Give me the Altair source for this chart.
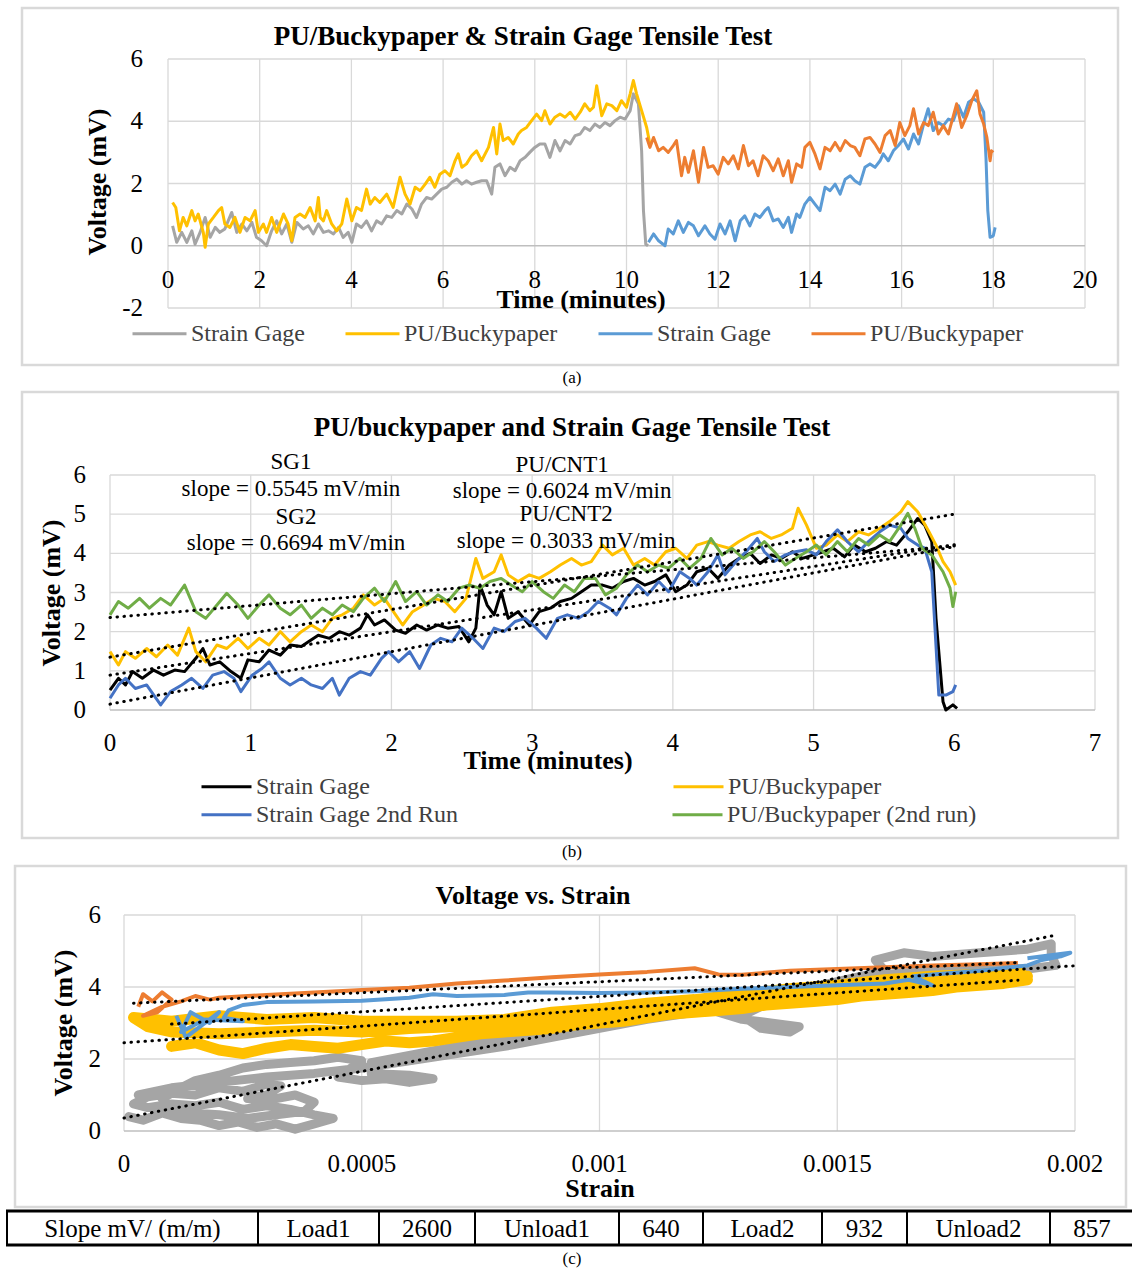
import altair as alt
import pandas as pd

FONT = "Liberation Serif"
GRID = "#d9d9d9"
AXLINE = "#bfbfbf"
FRAME = "#d9d9d9"

# ===================== Panel (a) data =====================
A_SG1_T = [0.10,0.19,0.30,0.41,0.52,0.59,0.70,0.81,0.92,1.03,1.13,1.24,1.39,1.50,1.61,1.72,1.83,1.93,2.04,2.15,
           2.26,2.37,2.48,2.59,2.70,2.81,2.95,3.06,3.17,3.28,3.39,3.50,3.61,3.72,3.82,3.93,4.01,4.11,4.22,4.33,
           4.44,4.55,4.66,4.77,4.88,4.99,5.10,5.21,5.32,5.42,5.53,5.64,5.75,5.86,5.97,6.08,6.19,6.30,6.41,6.51,
           6.62,6.73,6.84,6.95,7.06,7.13,7.24,7.35,7.46,7.57,7.68,7.79,7.89,8.00,8.11,8.22,8.33,8.44,8.55,8.66,
           8.77,8.88,8.99,9.09,9.20,9.31,9.42,9.53,9.64,9.75,9.86,9.97,10.08,10.15,10.26,10.33,10.37,10.42,10.47]
A_SG1_V = [0.64,0.11,0.43,0.11,0.48,0.05,0.43,0.91,0.27,0.59,0.43,0.54,1.07,0.43,0.70,0.48,0.75,0.27,0.16,0.00,
           0.48,0.80,0.38,0.70,0.11,0.75,0.54,0.64,0.38,0.70,0.43,0.48,0.38,0.59,0.27,0.43,0.11,0.70,0.59,0.80,
           0.48,0.80,0.70,0.96,0.91,1.13,1.02,1.34,1.18,0.91,1.34,1.55,1.50,1.66,1.82,1.88,2.04,2.14,1.98,2.09,
           1.98,2.04,2.09,2.09,1.66,2.52,2.63,2.25,2.52,2.41,2.73,2.84,3.00,3.16,3.27,3.27,2.84,3.38,3.05,3.38,
           3.27,3.54,3.59,3.80,3.70,3.91,3.80,3.96,3.86,4.02,4.13,4.07,4.34,4.88,4.56,3.05,1.13,0.05,0.00]

A_PU1_T = [0.10,0.17,0.25,0.33,0.41,0.52,0.59,0.66,0.77,0.81,0.88,0.99,1.10,1.17,1.24,1.35,1.46,1.57,1.68,1.79,
           1.90,1.97,2.08,2.15,2.26,2.37,2.52,2.62,2.70,2.77,2.88,2.99,3.10,3.21,3.28,3.32,3.39,3.46,3.57,3.68,
           3.79,3.90,4.01,4.11,4.22,4.33,4.41,4.51,4.62,4.77,4.91,5.06,5.17,5.28,5.39,5.50,5.61,5.71,5.82,5.93,
           6.04,6.15,6.26,6.33,6.41,6.51,6.62,6.73,6.84,6.99,7.10,7.17,7.24,7.31,7.42,7.53,7.64,7.71,7.82,7.93,
           8.04,8.15,8.22,8.33,8.44,8.55,8.66,8.77,8.88,8.99,9.09,9.20,9.28,9.35,9.46,9.57,9.68,9.79,9.89,10.00,
           10.08,10.15,10.22,10.33,10.44,10.51]
A_PU1_V = [1.39,1.23,0.48,0.91,0.64,1.13,0.80,1.02,0.43,-0.05,0.70,0.91,1.13,1.23,0.70,0.59,0.91,0.43,0.91,0.80,
           1.13,0.43,0.70,0.43,0.91,0.43,1.02,0.70,0.16,0.91,1.02,0.91,1.23,0.80,1.55,0.91,0.80,1.13,0.70,0.48,
           0.70,1.50,0.80,1.23,1.13,1.82,1.34,1.55,1.39,1.66,1.23,2.20,1.66,1.34,1.88,1.77,1.98,2.20,1.88,2.30,
           2.41,2.25,2.73,2.95,2.52,2.63,2.89,3.05,2.73,3.16,3.80,2.95,3.91,3.38,3.48,3.27,3.59,3.70,3.80,4.02,
           4.23,4.02,4.34,3.91,4.13,4.23,4.13,4.29,4.07,4.29,4.56,4.34,4.45,5.14,4.18,4.56,4.50,4.34,4.66,4.45,
           4.88,5.31,4.88,4.34,3.80,3.27]

A_SG2_T = [10.48,10.59,10.70,10.84,10.91,11.02,11.13,11.24,11.35,11.46,11.57,11.71,11.82,11.93,12.04,12.15,12.26,
           12.37,12.48,12.58,12.69,12.80,12.91,13.02,13.09,13.20,13.31,13.42,13.53,13.60,13.71,13.78,13.89,14.00,
           14.11,14.22,14.33,14.44,14.55,14.66,14.77,14.88,14.98,15.09,15.20,15.31,15.42,15.53,15.60,15.71,15.82,
           15.93,16.04,16.15,16.26,16.37,16.48,16.58,16.69,16.80,16.91,17.02,17.13,17.24,17.35,17.46,17.57,17.68,
           17.79,17.84,17.88,17.93,18.00,18.04]
A_SG2_V = [0.11,0.38,0.16,0.00,0.54,0.38,0.80,0.43,0.75,0.64,0.32,0.64,0.38,0.21,0.70,0.38,0.80,0.16,0.80,0.96,
           0.64,1.02,0.91,1.13,1.23,0.80,0.86,0.59,0.91,0.43,1.02,0.91,1.34,1.55,1.34,1.13,1.88,1.77,1.98,1.66,
           2.14,2.25,2.09,1.98,2.52,2.63,2.52,2.73,2.95,2.73,3.05,3.22,3.43,3.11,3.59,3.27,3.91,4.40,3.70,3.96,
           3.86,4.07,4.02,4.50,4.13,4.61,4.72,4.61,4.29,2.84,1.13,0.27,0.32,0.59]

A_PU2_T = [10.44,10.51,10.59,10.70,10.80,10.91,11.02,11.09,11.20,11.27,11.35,11.46,11.57,11.68,11.78,11.89,12.00,
           12.11,12.22,12.33,12.44,12.55,12.66,12.76,12.87,12.98,13.09,13.20,13.31,13.42,13.53,13.60,13.71,13.82,
           13.89,14.00,14.11,14.22,14.33,14.44,14.55,14.66,14.77,14.88,14.98,15.09,15.20,15.31,15.42,15.53,15.64,
           15.75,15.86,15.96,16.07,16.18,16.26,16.37,16.48,16.58,16.69,16.80,16.91,17.02,17.13,17.20,17.31,17.42,
           17.53,17.64,17.71,17.79,17.86,17.93,17.96,18.00]
A_PU2_V = [3.48,3.16,3.48,3.05,3.16,3.00,3.22,3.38,2.25,2.84,2.36,3.05,2.04,3.16,2.52,2.57,2.30,2.84,2.63,2.89,
           2.47,3.22,2.57,2.73,2.25,2.89,2.73,2.41,2.79,2.25,2.73,2.04,2.63,2.52,3.16,3.32,2.95,2.47,3.16,3.05,
           3.32,3.05,3.38,3.22,3.16,2.89,3.43,3.48,3.27,3.00,3.54,3.70,3.22,3.96,3.54,3.86,4.40,3.59,3.96,3.86,
           4.29,3.59,3.86,3.59,4.18,4.56,3.80,4.18,4.66,4.98,4.23,3.91,3.48,2.73,3.05,3.00]

A_KEYS = ["SG1", "PU1", "SG2", "PU2"]
A_COLORS = ["#a5a5a5", "#ffc000", "#5b9bd5", "#ed7d31"]
A_XTICKS = [0, 2, 4, 6, 8, 10, 12, 14, 16, 18, 20]
A_YTICKS = [-2, 0, 2, 4, 6]
A_TITLE = "PU/Buckypaper & Strain Gage Tensile Test"

# ===================== Panel (b) data =====================
B_SG_T = [0,0.06,0.11,0.16,0.23,0.31,0.38,0.46,0.53,0.61,0.66,0.71,0.78,0.86,0.93,0.98,1.06,1.13,1.21,1.28,
          1.36,1.41,1.48,1.56,1.63,1.70,1.78,1.83,1.88,1.95,2.03,2.10,2.18,2.25,2.33,2.40,2.48,2.55,2.60,2.63,
          2.68,2.73,2.78,2.83,2.90,2.98,3.05,3.13,3.20,3.28,3.35,3.42,3.50,3.57,3.65,3.72,3.80,3.87,3.95,4.02,
          4.10,4.17,4.25,4.32,4.40,4.47,4.55,4.62,4.70,4.77,4.85,4.92,5.00,5.07,5.14,5.22,5.29,5.37,5.44,5.52,
          5.59,5.67,5.74,5.79,5.84,5.87,5.92,5.94,5.99,6.02]
B_SG_V = [0.51,0.81,0.64,0.98,0.81,1.02,0.89,1.02,0.98,1.32,1.57,1.15,1.23,0.98,0.81,1.28,1.23,1.53,1.40,1.66,
          1.62,1.74,1.91,1.83,2.00,1.91,2.09,2.43,2.17,2.30,2.04,1.96,2.17,2.04,2.17,2.09,2.13,1.74,2.09,3.19,
          2.68,2.43,3.02,2.34,2.51,2.17,2.51,2.60,2.77,2.85,3.02,3.19,3.19,3.11,3.28,3.36,3.19,3.28,3.45,3.02,
          3.19,3.53,3.62,3.36,3.70,3.87,4.00,3.74,3.96,3.87,4.04,3.87,3.96,4.04,4.13,3.91,4.21,4.04,4.13,4.30,
          4.21,4.55,4.89,4.72,4.30,2.34,0.21,0.00,0.13,0.04]

B_PU_T = [0,0.06,0.11,0.18,0.26,0.33,0.41,0.48,0.56,0.61,0.68,0.76,0.83,0.91,0.98,1.06,1.13,1.21,1.28,1.36,
          1.43,1.51,1.58,1.65,1.73,1.80,1.88,1.95,2.03,2.08,2.15,2.23,2.30,2.38,2.45,2.53,2.60,2.65,2.73,2.78,
          2.83,2.90,2.98,3.05,3.13,3.20,3.28,3.35,3.42,3.50,3.57,3.65,3.72,3.80,3.87,3.95,4.02,4.10,4.17,4.25,
          4.32,4.40,4.47,4.55,4.62,4.70,4.77,4.85,4.89,4.95,5.02,5.09,5.17,5.24,5.32,5.39,5.47,5.54,5.62,5.67,
          5.74,5.82,5.87,5.92,5.97,6.01]
B_PU_V = [1.49,1.15,1.49,1.32,1.57,1.36,1.66,1.40,2.09,1.49,1.23,1.66,1.57,1.83,1.57,1.83,1.66,2.00,1.74,2.00,
          2.17,2.00,2.34,2.43,2.60,2.94,2.68,2.85,2.43,2.17,2.51,2.68,2.85,2.77,2.51,2.85,3.87,3.36,3.53,3.96,
          3.45,3.28,3.45,3.36,3.53,3.70,3.87,3.70,3.79,4.21,3.96,4.13,3.70,3.87,3.70,4.04,4.13,3.87,4.21,4.30,
          4.21,4.13,4.30,4.47,4.55,4.38,4.47,4.64,5.15,4.72,4.13,4.21,4.47,4.30,4.55,4.47,4.64,4.81,5.06,5.32,
          5.06,4.55,4.21,3.79,3.53,3.19]

B_SG2_T = [0,0.06,0.11,0.18,0.26,0.36,0.43,0.51,0.58,0.66,0.73,0.81,0.88,0.93,1.01,1.08,1.13,1.21,1.28,1.36,
           1.43,1.51,1.58,1.63,1.70,1.78,1.85,1.93,1.98,2.05,2.13,2.20,2.28,2.35,2.43,2.50,2.58,2.65,2.73,2.80,
           2.88,2.95,3.03,3.10,3.18,3.25,3.33,3.40,3.47,3.55,3.60,3.67,3.75,3.82,3.90,3.97,4.05,4.12,4.17,4.25,
           4.32,4.37,4.45,4.52,4.60,4.65,4.72,4.80,4.87,4.95,5.02,5.09,5.17,5.24,5.32,5.39,5.47,5.54,5.62,5.67,
           5.74,5.79,5.84,5.89,5.94,5.99,6.01]
B_SG2_V = [0.30,0.64,0.81,0.55,0.64,0.13,0.47,0.64,0.81,0.55,0.89,0.98,0.81,0.47,0.89,1.06,1.23,0.81,0.64,0.81,
           0.64,0.55,0.81,0.38,0.81,0.98,0.89,1.32,1.49,1.23,1.49,1.06,1.66,1.83,1.74,2.09,1.83,1.57,2.09,2.00,
           2.26,2.34,2.09,1.83,2.34,2.43,2.34,2.51,2.77,2.60,2.43,2.85,3.19,2.94,3.28,3.02,3.53,3.36,3.19,3.53,
           3.96,3.45,3.79,4.04,4.38,4.04,3.79,3.96,4.04,4.09,3.96,4.30,4.60,4.30,4.04,4.30,4.55,4.72,4.64,4.38,
           4.21,4.13,3.53,0.38,0.38,0.47,0.64]

B_PU2_T = [0,0.06,0.13,0.21,0.28,0.36,0.43,0.53,0.61,0.68,0.76,0.83,0.91,0.98,1.06,1.13,1.21,1.28,1.36,1.43,
           1.51,1.58,1.65,1.73,1.80,1.88,1.95,2.03,2.10,2.18,2.25,2.33,2.40,2.48,2.55,2.63,2.70,2.78,2.85,2.93,
           3.00,3.08,3.15,3.23,3.30,3.37,3.45,3.52,3.60,3.67,3.75,3.82,3.90,3.97,4.05,4.12,4.20,4.27,4.35,4.42,
           4.50,4.57,4.65,4.72,4.80,4.87,4.95,5.02,5.09,5.17,5.24,5.32,5.39,5.47,5.54,5.62,5.67,5.72,5.77,5.84,
           5.92,5.97,5.99,6.01]
B_PU2_V = [2.43,2.77,2.60,2.85,2.60,2.85,2.68,3.19,2.51,2.34,2.68,2.98,2.68,2.34,2.68,2.94,2.60,2.43,2.68,2.34,
           2.60,2.43,2.68,2.51,2.85,3.11,2.77,3.28,2.77,3.02,2.68,2.94,2.77,3.11,3.19,3.11,3.28,3.36,3.19,3.02,
           3.28,3.02,2.85,3.19,3.02,3.36,3.36,2.94,3.11,3.45,3.70,3.53,3.70,3.62,3.87,3.62,3.87,4.38,3.96,4.13,
           3.87,4.04,4.30,4.04,3.70,3.87,4.04,4.21,3.96,4.30,4.04,4.38,4.21,4.47,4.30,4.72,5.02,4.64,4.13,3.96,
           3.53,3.11,2.64,3.02]

B_NAMES = ["Strain Gage", "PU/Buckypaper", "Strain Gage 2nd Run", "PU/Buckypaper (2nd run)"]
B_COLORS = ["#000000", "#ffc000", "#4472c4", "#70ad47"]
# linear trendlines (end points)
B_TREND_T0 = [0, 0, 0, 0]
B_TREND_V0 = [0.89, 0.15, 1.35, 2.36]
B_TREND_T1 = [6, 6, 6, 6]
B_TREND_V1 = [4.22, 4.17, 5.00, 4.19]
B_ANN_TEXT = ["SG1", "slope = 0.5545  mV/min", "SG2", "slope = 0.6694  mV/min",
              "PU/CNT1", "slope = 0.6024  mV/min", "PU/CNT2", "slope = 0.3033  mV/min"]
B_XTICKS = [0, 1, 2, 3, 4, 5, 6, 7]
B_YTICKS = [0, 1, 2, 3, 4, 5, 6]
B_TITLE = "PU/buckypaper and Strain Gage Tensile Test"

# ===================== Panel (c) data =====================
C_GRAY_S = [0.00001,0.00004,0.00008,0.00012,0.00016,0.0002,0.00024,0.00028,0.00032,0.00036,0.0004,0.00044,
            0.0004,0.00035,0.0003,0.00025,0.0002,0.00015,0.0001,0.00005,0.00002,
            0.00005,0.0001,0.00015,0.0002,0.00025,0.0003,0.00033,0.0003,0.00026,
            0.0003,0.00036,0.0004,0.00038,0.00032,0.00026,0.0002,0.00014,0.0001,0.00008,0.00012,
            0.00015,0.0002,0.00025,0.0003,0.00035,0.0004,0.00045,0.0005,
            0.00045,0.0005,0.00055,0.0006,0.00065,0.0006,0.00052,
            0.00052,0.0006,0.0007,0.0008,0.0009,0.001,0.0011,0.0012,0.0013,
            0.00125,0.0013,0.00136,0.00142,0.0014,0.00134,0.0013,
            0.0014,0.0015,0.0016,0.00158,0.00164,0.0017,0.0018,0.0019,0.00195,0.00195,0.00196,0.0019,0.0018,0.0017,0.0016,
            0.0015,0.0014,0.0013,0.0012,0.0011,0.001,0.0009,0.0008,0.0007,0.0006,0.0005,0.0004,0.0003,0.0002,0.0001,0.00003]
C_GRAY_V = [0.4,0.3,0.5,0.35,0.3,0.15,0.25,0.1,0.2,0.05,0.2,0.35,
            0.45,0.6,0.7,0.6,0.8,0.7,0.75,0.65,0.75,
            0.95,1.05,1.0,1.2,1.1,1.3,1.25,1.0,0.9,
            0.85,1.0,0.8,0.55,0.45,0.35,0.45,0.5,0.6,0.9,1.2,
            1.4,1.55,1.75,1.85,1.9,1.95,2.05,1.95,
            1.5,1.4,1.45,1.35,1.45,1.55,1.6,
            1.9,2.1,2.35,2.55,2.8,3.05,3.3,3.55,3.8,
            3.3,3.1,3.0,2.9,2.75,2.85,3.2,
            3.85,4.15,4.45,4.75,4.95,4.85,4.95,5.05,5.2,4.9,4.6,4.5,4.55,4.45,4.35,
            4.0,3.7,3.5,3.3,3.1,2.85,2.6,2.35,2.15,1.95,1.75,1.6,1.5,1.35,1.2,1.0]

C_YEL_S = [0.0001,0.00015,0.0002,0.00025,0.0003,0.00035,0.0004,0.00045,0.0005,0.00055,0.0006,0.00065,
           0.0007,0.00075,0.0008,0.00085,0.0009,0.00095,0.001,0.00105,0.0011,0.00115,0.0012,0.00125,
           0.0013,0.00135,0.0014,0.00145,0.0015,0.00155,0.0016,0.00165,0.0017,0.00175,0.0018,0.00185,0.0019,
           0.00188,0.0018,0.0017,0.0016,0.0015,0.0014,0.0013,0.0012,0.0011,0.001,0.0009,0.0008,0.0007,
           0.0006,0.0005,0.0004,0.0003,0.0002,0.0001,0.00002,
           0.00005,0.0001,0.0002,0.0003,0.0004,0.0005,0.0006,0.0007,0.0008,0.0009,0.001,0.0011,0.0012,
           0.0013,0.0014,0.0015,0.0016,0.0017,0.0018,0.0019]
C_YEL_V = [2.35,2.45,2.25,2.15,2.3,2.4,2.35,2.3,2.4,2.5,2.45,2.5,
           2.6,2.7,2.75,2.8,2.85,2.95,3.0,3.05,3.15,3.25,3.3,3.35,
           3.4,3.5,3.55,3.6,3.65,3.75,3.8,3.85,3.9,4.0,4.05,4.1,4.2,
           4.45,4.35,4.3,4.2,4.05,3.95,3.8,3.65,3.55,3.4,3.3,3.1,3.05,
           3.05,3.05,3.15,3.1,3.2,3.05,3.15,
           2.9,2.75,2.7,2.75,2.8,2.75,2.85,2.9,3.0,3.1,3.2,3.35,3.5,
           3.6,3.75,3.85,4.0,4.1,4.2,4.3]

C_ORG_S = [0.00003,0.00004,0.00006,0.00008,0.0001,0.00007,0.00004,0.00008,0.00012,0.00015,0.00018,0.0002,0.0003,
           0.0004,0.0005,0.0006,0.0007,0.0008,0.0009,0.001,0.0011,0.00118,0.0012,
           0.00125,0.0013,0.0014,0.0015,0.0016,0.0017,0.0018,0.00188]
C_ORG_V = [3.45,3.8,3.6,3.85,3.65,3.3,3.2,3.45,3.6,3.75,3.65,3.7,3.78,
           3.85,3.92,3.98,4.1,4.18,4.27,4.35,4.42,4.5,4.52,
           4.35,4.34,4.45,4.5,4.55,4.6,4.63,4.67]

C_BLU_S = [0.00011,0.00013,0.00016,0.0002,0.00018,0.00014,0.00012,0.00017,0.00025,0.00021,
           0.00022,0.00025,0.0003,0.0004,0.0005,0.0006,0.00065,0.0007,0.0008,0.00085,
           0.0009,0.001,0.0011,0.0012,0.0013,0.0014,0.0015,0.0016,0.00165,0.0017,
           0.00166,0.0017,0.0018,0.0019,0.00193,0.00197,0.00199,0.0019]
C_BLU_V = [3.2,2.6,2.9,3.3,3.0,3.3,2.75,3.1,3.05,3.15,
           3.35,3.5,3.58,3.6,3.62,3.7,3.8,3.75,3.78,3.85,
           3.85,3.83,3.85,3.88,3.95,4.0,4.05,4.1,4.2,4.05,
           4.3,4.35,4.45,4.6,4.75,4.85,4.95,4.8]

C_KEYS = ["gray", "yellow", "orange", "blue"]
C_COLORS = ["#a5a5a5", "#ffc000", "#ed7d31", "#5b9bd5"]
C_TREND_S0 = [0.0, 0.00002, 0.0001, 0.0]
C_TREND_V0 = [0.36, 3.55, 2.97, 2.45]
C_TREND_S1 = [0.00196, 0.00188, 0.002, 0.00188]
C_TREND_V1 = [5.44, 4.68, 4.59, 4.19]
C_XTICKS = [0, 0.0005, 0.001, 0.0015, 0.002]
C_XLABELS = ["0", "0.0005", "0.001", "0.0015", "0.002"]
C_YTICKS = [0, 2, 4, 6]
C_TITLE = "Voltage vs. Strain"

TABLE_CELLS = ["Slope mV/ (m/m)", "Load1", "2600", "Unload1", "640", "Load2", "932", "Unload2", "857"]

# ===================== layout (pixels) =====================
A_XDOM, A_XRNG = [0, 20], [168, 1085]
A_YDOM, A_YRNG = [-2, 6], [308, 59]
B_XDOM, B_XRNG = [0, 7], [110, 1095]
B_YDOM, B_YRNG = [0, 6], [710, 475]
C_XDOM, C_XRNG = [0, 0.002], [124, 1075]
C_YDOM, C_YRNG = [0, 6], [1131, 915]
B_ANN_POS = [(1.286, 6.33), (1.286, 5.64), (1.322, 4.93), (1.322, 4.26),
             (3.213, 6.25), (3.213, 5.59), (3.241, 5.0), (3.241, 4.31)]
TABLE_EDGES = [7, 258, 379, 475, 619, 703, 822, 907, 1050, 1134]


def sc(dom, rng):
    return alt.Scale(domain=dom, range=rng, zero=False, nice=False)


def series_df(keys, xs_list, ys_list):
    rows = []
    for k, xs, ys in zip(keys, xs_list, ys_list):
        n = min(len(xs), len(ys))
        for i in range(n):
            rows.append({"k": k, "x": xs[i], "y": ys[i], "i": i})
    return pd.DataFrame(rows)


def trend_df(x0, y0, x1, y1):
    rows = []
    for j in range(len(x0)):
        rows.append({"g": j, "x": x0[j], "y": y0[j], "i": 0})
        rows.append({"g": j, "x": x1[j], "y": y1[j], "i": 1})
    return pd.DataFrame(rows)


def hgrid(vals, xdom, xs, ys, color=GRID, width=1.3):
    df = pd.DataFrame({"v": vals, "x0": xdom[0], "x1": xdom[1]})
    return alt.Chart(df).mark_rule(color=color, strokeWidth=width).encode(
        y=alt.Y("v:Q", scale=ys, axis=None),
        x=alt.X("x0:Q", scale=xs, axis=None), x2="x1:Q")


def vgrid(vals, ydom, xs, ys, color=GRID, width=1.3):
    df = pd.DataFrame({"v": vals, "y0": ydom[0], "y1": ydom[1]})
    return alt.Chart(df).mark_rule(color=color, strokeWidth=width).encode(
        x=alt.X("v:Q", scale=xs, axis=None),
        y=alt.Y("y0:Q", scale=ys, axis=None), y2="y1:Q")


def xlabels(vals, labels, xs, ys, ybase, dy, size=25):
    df = pd.DataFrame({"v": vals, "lab": labels, "yb": ybase})
    return alt.Chart(df).mark_text(font=FONT, fontSize=size, baseline="middle", align="center",
                                   dy=dy, color="#000000").encode(
        x=alt.X("v:Q", scale=xs, axis=None), y=alt.Y("yb:Q", scale=ys, axis=None), text="lab:N")


def ylabels(vals, xs, ys, xbase, dx, size=25):
    df = pd.DataFrame({"v": vals, "lab": [str(v) for v in vals], "xb": xbase})
    return alt.Chart(df).mark_text(font=FONT, fontSize=size, baseline="middle", align="right",
                                   dx=dx, color="#000000").encode(
        x=alt.X("xb:Q", scale=xs, axis=None), y=alt.Y("v:Q", scale=ys, axis=None), text="lab:N")


def label(txt, x, y, size, bold=False, angle=0):
    df = pd.DataFrame({"t": [txt]})
    return alt.Chart(df).mark_text(font=FONT, fontSize=size, fontWeight="bold" if bold else "normal",
                                   angle=angle, align="center", baseline="middle",
                                   color="#000000").encode(
        x=alt.value(x), y=alt.value(y), text="t:N")


def frame(x0, y0, x1, y1):
    df = pd.DataFrame({"a": [0]})
    return alt.Chart(df).mark_rect(fill="#ffffff", fillOpacity=0, stroke=FRAME, strokeWidth=2.5).encode(
        x=alt.value(x0), x2=alt.value(x1), y=alt.value(y0), y2=alt.value(y1))


def trend_layer(df, xs, ys):
    return alt.Chart(df).mark_line(color="#000000", strokeWidth=3, strokeDash=[0.5, 6.5],
                                   strokeCap="round").encode(
        x=alt.X("x:Q", scale=xs, axis=None), y=alt.Y("y:Q", scale=ys, axis=None),
        detail="g:N", order="i:Q")


def line_legend(x, y, pad, size, **kw):
    return alt.Legend(title=None, orient="none", legendX=x, legendY=y, direction="horizontal",
                      symbolType="stroke", symbolSize=size, symbolStrokeWidth=3, labelFont=FONT,
                      labelFontSize=24, labelColor="#404040", labelOffset=3, labelLimit=400,
                      columnPadding=pad, padding=0, **kw)


L = []

# ---------- frames ----------
L.append(frame(22, 8, 1118, 365))
L.append(frame(22, 392, 1118, 838))
L.append(frame(15, 866, 1126, 1207))

# ---------- panel (a) ----------
XA, YA = sc(A_XDOM, A_XRNG), sc(A_YDOM, A_YRNG)
L.append(hgrid([v for v in A_YTICKS if v != 0], A_XDOM, XA, YA))
L.append(vgrid(A_XTICKS, A_YDOM, XA, YA))
L.append(hgrid([0], A_XDOM, XA, YA, color=AXLINE, width=1.6))
dfa = series_df(A_KEYS, [A_SG1_T, A_PU1_T, A_SG2_T, A_PU2_T], [A_SG1_V, A_PU1_V, A_SG2_V, A_PU2_V])
L.append(alt.Chart(dfa).mark_line(strokeWidth=3, strokeJoin="round").encode(
    x=alt.X("x:Q", scale=XA, axis=None), y=alt.Y("y:Q", scale=YA, axis=None),
    color=alt.Color("k:N", scale=alt.Scale(domain=A_KEYS, range=A_COLORS),
                    legend=line_legend(131, 305, 34, 2916,
                                       labelExpr="datum.label == 'SG1' || datum.label == 'SG2' ? 'Strain Gage' : 'PU/Buckypaper'")),
    order="i:Q"))
L.append(xlabels(A_XTICKS, [str(v) for v in A_XTICKS], XA, YA, 0, 34))
L.append(ylabels(A_YTICKS, XA, YA, A_XDOM[0], -25))
L.append(label(A_TITLE, 523, 37, 27, bold=True))
L.append(label("Time (minutes)", 581, 300, 26, bold=True))
L.append(label("Voltage (mV)", 98, 182, 26, bold=True, angle=270))
L.append(label("(a)", 572, 378, 17))

# ---------- panel (b) ----------
XB, YB = sc(B_XDOM, B_XRNG), sc(B_YDOM, B_YRNG)
L.append(hgrid([v for v in B_YTICKS if v != 0], B_XDOM, XB, YB))
L.append(vgrid(B_XTICKS, B_YDOM, XB, YB))
L.append(hgrid([0], B_XDOM, XB, YB, color=AXLINE, width=1.6))
# first legend row: Strain Gage / PU/Buckypaper
dfb1 = series_df(B_NAMES[:2], [B_SG_T, B_PU_T], [B_SG_V, B_PU_V])
L.append(alt.Chart(dfb1).mark_line(strokeWidth=3, strokeJoin="round").encode(
    x=alt.X("x:Q", scale=XB, axis=None), y=alt.Y("y:Q", scale=YB, axis=None),
    color=alt.Color("k:N", scale=alt.Scale(domain=B_NAMES[:2], range=B_COLORS[:2]),
                    legend=line_legend(200, 760, 297, 2500)),
    order="i:Q"))
# second legend row: 2nd runs
dfb2 = series_df(B_NAMES[2:], [B_SG2_T, B_PU2_T], [B_SG2_V, B_PU2_V])
L.append(alt.Chart(dfb2).mark_line(strokeWidth=3, strokeJoin="round").encode(
    x=alt.X("x:Q", scale=XB, axis=None), y=alt.Y("y:Q", scale=YB, axis=None),
    color=alt.Color("k:N", scale=alt.Scale(domain=B_NAMES[2:], range=B_COLORS[2:]),
                    legend=line_legend(200, 788, 208, 2500)),
    order="i:Q"))
L.append(trend_layer(trend_df(B_TREND_T0, B_TREND_V0, B_TREND_T1, B_TREND_V1), XB, YB))
dfann = pd.DataFrame({"t": B_ANN_TEXT, "x": [p[0] for p in B_ANN_POS], "y": [p[1] for p in B_ANN_POS]})
L.append(alt.Chart(dfann).mark_text(font=FONT, fontSize=23, align="center", baseline="middle",
                                    color="#000000").encode(
    x=alt.X("x:Q", scale=XB, axis=None), y=alt.Y("y:Q", scale=YB, axis=None), text="t:N"))
L.append(xlabels(B_XTICKS, [str(v) for v in B_XTICKS], XB, YB, 0, 33))
L.append(ylabels(B_YTICKS, XB, YB, B_XDOM[0], -24))
L.append(label(B_TITLE, 572, 428, 27, bold=True))
L.append(label("Time (minutes)", 548, 761, 26, bold=True))
L.append(label("Voltage (mV)", 52, 593, 26, bold=True, angle=270))
L.append(label("(b)", 572, 852, 17))

# ---------- panel (c) ----------
XC, YC = sc(C_XDOM, C_XRNG), sc(C_YDOM, C_YRNG)
L.append(hgrid([v for v in C_YTICKS if v != 0], C_XDOM, XC, YC))
L.append(vgrid(C_XTICKS, C_YDOM, XC, YC))
L.append(hgrid([0], C_XDOM, XC, YC, color=AXLINE, width=1.6))
dfc_g = series_df(C_KEYS[:1], [C_GRAY_S], [C_GRAY_V])
L.append(alt.Chart(dfc_g).mark_line(strokeWidth=9, strokeJoin="round", strokeCap="round").encode(
    x=alt.X("x:Q", scale=XC, axis=None), y=alt.Y("y:Q", scale=YC, axis=None),
    color=alt.Color("k:N", scale=alt.Scale(domain=C_KEYS, range=C_COLORS), legend=None),
    order="i:Q"))
dfc_y = series_df(C_KEYS[1:2], [C_YEL_S], [C_YEL_V])
L.append(alt.Chart(dfc_y).mark_line(strokeWidth=11, strokeJoin="round", strokeCap="round").encode(
    x=alt.X("x:Q", scale=XC, axis=None), y=alt.Y("y:Q", scale=YC, axis=None),
    color=alt.Color("k:N", scale=alt.Scale(domain=C_KEYS, range=C_COLORS), legend=None),
    order="i:Q"))
dfc_thin = series_df(C_KEYS[2:], [C_ORG_S, C_BLU_S], [C_ORG_V, C_BLU_V])
L.append(alt.Chart(dfc_thin).mark_line(strokeWidth=4, strokeJoin="round").encode(
    x=alt.X("x:Q", scale=XC, axis=None), y=alt.Y("y:Q", scale=YC, axis=None),
    color=alt.Color("k:N", scale=alt.Scale(domain=C_KEYS, range=C_COLORS), legend=None),
    order="i:Q"))
L.append(trend_layer(trend_df(C_TREND_S0, C_TREND_V0, C_TREND_S1, C_TREND_V1), XC, YC))
L.append(xlabels(C_XTICKS, C_XLABELS, XC, YC, 0, 33))
L.append(ylabels(C_YTICKS, XC, YC, C_XDOM[0], -23))
L.append(label(C_TITLE, 533, 896, 26, bold=True))
L.append(label("Strain", 600, 1189, 26, bold=True))
L.append(label("Voltage (mV)", 64, 1023, 26, bold=True, angle=270))

# ---------- table ----------
centers = [(TABLE_EDGES[i] + TABLE_EDGES[i + 1]) / 2 for i in range(len(TABLE_CELLS))]
dft = pd.DataFrame({"lab": TABLE_CELLS, "cx": centers})
L.append(alt.Chart(dft).mark_text(font=FONT, fontSize=25, align="center", baseline="middle",
                                  color="#000000").encode(
    x=alt.X("cx:Q", scale=None), y=alt.value(1229), text="lab:N"))
dfe = pd.DataFrame({"ex": TABLE_EDGES[:-1]})
L.append(alt.Chart(dfe).mark_rule(color="#000000", strokeWidth=2).encode(
    x=alt.X("ex:Q", scale=None), y=alt.value(1211), y2=alt.value(1245)))
dfh = pd.DataFrame({"hy": [1211, 1245]})
L.append(alt.Chart(dfh).mark_rule(color="#000000", strokeWidth=3).encode(
    y=alt.Y("hy:Q", scale=None), x=alt.value(6), x2=alt.value(1132)))
L.append(label("(c)", 572, 1259, 17))

chart = alt.layer(*L).resolve_scale(
    x="independent", y="independent", color="independent"
).properties(
    width=1132, height=1269, autosize=alt.AutoSizeParams(type="none"), padding=0, background="white"
).configure_view(stroke="transparent")

chart.save("out.html", embed_options={"renderer": "svg", "actions": False})
